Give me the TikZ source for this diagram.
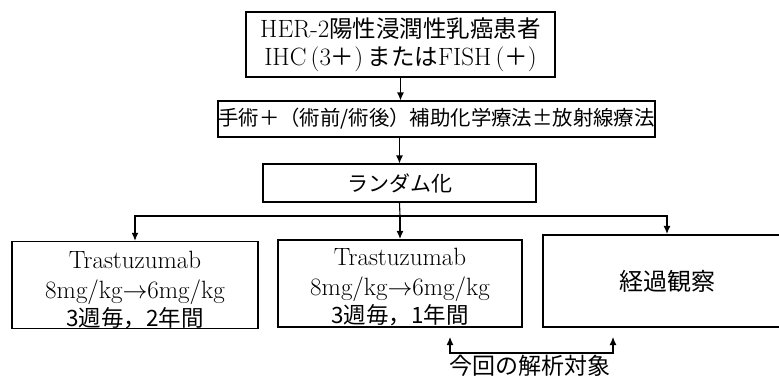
\documentclass[tikz,border=0pt]{standalone}
\usepackage{fontspec}
\newfontfamily\cjk{Noto Sans CJK JP}
\usetikzlibrary{arrows.meta}
\begin{document}
\begin{tikzpicture}[x=1pt,y=-1pt,
  box/.style={draw, line width=1.1pt, inner sep=0pt, align=center},
  thickbox/.style={box, line width=2.2pt},
  link/.style={line width=1.1pt},
  arr/.style={link, -{Latex[length=8pt,width=7pt]}},
  arrboth/.style={link, {Latex[length=8pt,width=7pt]}-{Latex[length=8pt,width=7pt]}},
]
\useasboundingbox (0,0) rectangle (779,378);
\node[box, minimum width=309pt, minimum height=65pt, font=\fontsize{25}{28}\selectfont] (b1) at (400.5,44.5)
  {HER-2{\cjk\fontsize{23.5}{28}\selectfont 陽性浸潤性乳癌患者}\\IHC\,(3{\cjk\fontsize{23.5}{28}\selectfont ＋})\,{\cjk\fontsize{23.5}{28}\selectfont または}FISH\,({\cjk\fontsize{23.5}{28}\selectfont ＋})};
\node[box, minimum width=437pt, minimum height=36pt, font=\cjk\fontsize{20.4}{24}\selectfont] (b2) at (436.5,119)
  {手術＋（術前/術後）補助化学療法±放射線療法};
\node[box, minimum width=273pt, minimum height=38pt, font=\cjk\fontsize{21}{24}\selectfont] (b3) at (399.5,183)
  {ランダム化};
\node[box, minimum width=246pt, minimum height=84pt, font=\fontsize{25}{30}\selectfont] (left) at (135,285)
  {\rule{0pt}{27pt}Trastuzumab\\8mg/kg$\rightarrow$6mg/kg\\[-2pt]{\cjk\fontsize{22.5}{28}\selectfont 3週毎，2年間}};
\node[thickbox, minimum width=244pt, minimum height=87pt, font=\fontsize{25}{30}\selectfont] (mid) at (400,283.5)
  {\rule{0pt}{25pt}Trastuzumab\\8mg/kg$\rightarrow$6mg/kg\\[-2pt]{\cjk\fontsize{22.5}{28}\selectfont 3週毎，1年間}};
\node[thickbox, minimum width=248pt, minimum height=92pt, font=\cjk\fontsize{24}{28}\selectfont] (right) at (667,281)
  {経過観察};
\draw[arr] (b1.south) -- (b1.south |- b2.north);
\draw[arr] (b2.south -| b3.north) -- (b3.north);
\coordinate (split) at (400,216);
\draw[link] (b3.south) -- (split);
\draw[arr] (split) -| (left.north);
\draw[arr] (split) -- (mid.north);
\draw[arr] (split) -| (right.north);
\coordinate (ta) at (450,337);
\coordinate (tb) at (613,337);
\coordinate (ca) at (450,353);
\coordinate (cb) at (613,353);
\draw[arrboth] (ta) -- (ca) -- (cb) -- (tb);
\node[font=\cjk\fontsize{23}{28}\selectfont, inner sep=0pt] (lab) at (530,366) {今回の解析対象};
\end{tikzpicture}
\end{document}
